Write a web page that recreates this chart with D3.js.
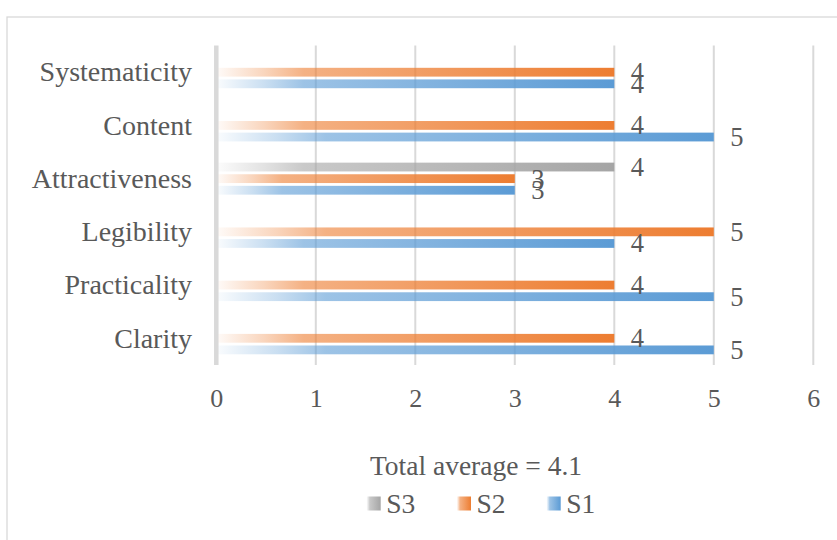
<!DOCTYPE html>
<html>
<head>
<meta charset="utf-8">
<script src="https://cdn.jsdelivr.net/npm/d3@7/dist/d3.min.js"></script>
<style>
  html, body { margin: 0; padding: 0; background: #fff; }
  svg { display: block; }
  text { font-family: "Liberation Serif", "Times New Roman", serif; fill: #595959; }
</style>
</head>
<body>
<svg id="chart" width="837" height="540"></svg>
<script>
// Rating categories (first one drawn at the bottom, as in a standard bar chart)
const categories = ["Clarity", "Practicality", "Legibility", "Attractiveness", "Content", "Systematicity"];
// Scores per series; null where the series has no value for that category
const s1Values = [5, 5, 4, 3, 5, 4];
const s2Values = [4, 4, 5, 3, 4, 4];
const s3Values = [null, null, null, 4, null, null];
const seriesNames = ["S1", "S2", "S3"];
const seriesColors = ["#5b9bd5", "#ed7d31", "#a5a5a5"];
const xTicks = [0, 1, 2, 3, 4, 5, 6];
const legendTitle = "Total average = 4.1";

const seriesValues = [s1Values, s2Values, s3Values];

const svg = d3.select("#chart");

// outer chart frame
svg.append("rect")
  .attr("x", 7).attr("y", 17)
  .attr("width", 860).attr("height", 560)
  .attr("fill", "#fff")
  .attr("stroke", "#d9d9d9")
  .attr("stroke-width", 1.3);

const plot = { left: 216.3, right: 813.3, top: 45.6, bottom: 364.9 };

const x = d3.scaleLinear().domain([0, 6]).range([plot.left, plot.right]);
const y = d3.scaleBand()
  .domain(categories.slice().reverse())
  .range([plot.top, plot.bottom])
  .paddingInner(0).paddingOuter(0);

// series offsets inside a category band: S1 lowest, S3 highest
const barStep = 11.6;
const barH = 8.8;
const offsets = [barStep, 0, -barStep];

// horizontal fade gradients, one per series
const defs = svg.append("defs");
seriesColors.forEach((c, i) => {
  const g = defs.append("linearGradient")
    .attr("id", "grad" + i)
    .attr("x1", "0%").attr("x2", "100%")
    .attr("y1", "0%").attr("y2", "0%");
  [[0, 0.03], [0.12, 0.32], [0.22, 0.6], [1, 1]].forEach(([o, a]) => {
    g.append("stop").attr("offset", o).attr("stop-color", c).attr("stop-opacity", a);
  });
});

// vertical gridlines
svg.append("g")
  .selectAll("line")
  .data(xTicks.filter(t => t > 0))
  .join("line")
  .attr("x1", d => x(d)).attr("x2", d => x(d))
  .attr("y1", plot.top).attr("y2", plot.bottom)
  .attr("stroke", "#d9d9d9")
  .attr("stroke-width", 2);

// bars
const barData = [];
categories.forEach((cat, ci) => {
  seriesValues.forEach((vals, si) => {
    if (vals[ci] != null) barData.push({ cat, si, v: vals[ci] });
  });
});

const cy = d => y(d.cat) + y.bandwidth() / 2 + offsets[d.si];

svg.append("g")
  .selectAll("rect")
  .data(barData)
  .join("rect")
  .attr("x", x(0))
  .attr("y", d => cy(d) - barH / 2)
  .attr("width", d => x(d.v) - x(0))
  .attr("height", barH)
  .attr("fill", d => `url(#grad${d.si})`);

// value axis line at zero
svg.append("line")
  .attr("x1", x(0)).attr("x2", x(0))
  .attr("y1", plot.top).attr("y2", plot.bottom)
  .attr("stroke", "#d9d9d9")
  .attr("stroke-width", 4.5);

// data labels
const numSize = 26.5;
svg.append("g")
  .selectAll("text")
  .data(barData)
  .join("text")
  .attr("x", d => x(d.v) + 16.5)
  .attr("y", d => cy(d) + numSize * 0.34)
  .attr("font-size", numSize)
  .text(d => d.v);

// category labels
const catSize = 28;
svg.append("g")
  .selectAll("text")
  .data(categories)
  .join("text")
  .attr("x", 192)
  .attr("y", d => y(d) + y.bandwidth() / 2 + catSize * 0.33)
  .attr("text-anchor", "end")
  .attr("font-size", catSize)
  .text(d => d);

// x tick labels
const xAxis = d3.axisBottom(x).tickValues(xTicks).tickSize(0).tickPadding(0).tickFormat(d3.format("d"));
const axisG = svg.append("g")
  .attr("transform", `translate(0, 407.3)`)
  .call(xAxis);
axisG.select(".domain").remove();
axisG.selectAll("text")
  .attr("dy", 0)
  .attr("y", 0)
  .attr("font-size", 26)
  .attr("font-family", "Liberation Serif, serif")
  .attr("fill", "#595959");

// legend
svg.append("text")
  .attr("x", 476)
  .attr("y", 475)
  .attr("text-anchor", "middle")
  .attr("font-size", 27.5)
  .text(legendTitle);

const legendOrder = [2, 1, 0];
const legendX = [366.7, 457, 546.7];
const legendG = svg.append("g");
legendOrder.forEach((si, k) => {
  legendG.append("rect")
    .attr("x", legendX[k]).attr("y", 496.5)
    .attr("width", 14).attr("height", 14)
    .attr("fill", `url(#grad${si})`);
  legendG.append("text")
    .attr("x", legendX[k] + 19.5)
    .attr("y", 512.5)
    .attr("font-size", 27.5)
    .text(seriesNames[si]);
});
</script>
</body>
</html>
